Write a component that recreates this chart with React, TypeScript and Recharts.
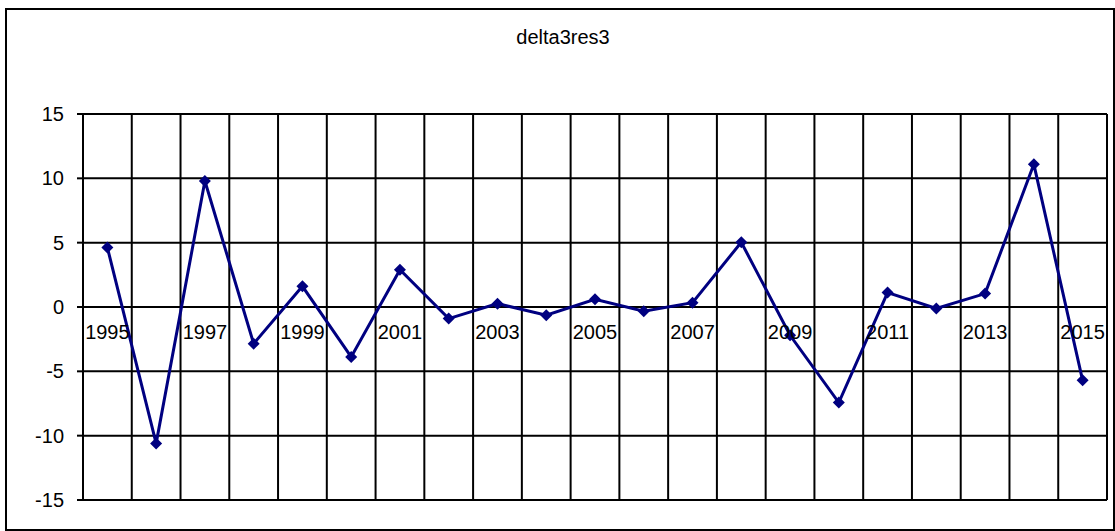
import React from 'react';
import { LineChart, Line, XAxis, YAxis, CartesianGrid, ReferenceDot } from 'recharts';

// category years and the series
const years = [
  1995, 1996, 1997, 1998, 1999, 2000, 2001, 2002, 2003, 2004, 2005,
  2006, 2007, 2008, 2009, 2010, 2011, 2012, 2013, 2014, 2015,
];
const delta3res3 = [
  4.62, -10.6, 9.79, -2.85, 1.61, -3.88, 2.9, -0.9, 0.26, -0.64, 0.6,
  -0.33, 0.34, 5.03, -2.2, -7.43, 1.12, -0.12, 1.04, 11.09, -5.7,
];
const labelYears = [1995, 1997, 1999, 2001, 2003, 2005, 2007, 2009, 2011, 2013, 2015];
const yTicks = [-15, -10, -5, 0, 5, 10, 15];

const title = 'delta3res3';
const FONT = '"Liberation Sans", Arial, sans-serif';

const data = years.map((year, i) => ({ year, value: delta3res3[i] }));

// gridlines sit between the categories, like Excel's "between tick marks"
const gridTicks = [...years.map((y) => y - 0.5), years[years.length - 1] + 0.5];

const Diamond = (props: any) => {
  const { cx, cy } = props;
  if (cx == null || cy == null) return null;
  const s = 6;
  return (
    <polygon
      points={`${cx},${cy - s} ${cx + s},${cy} ${cx},${cy + s} ${cx - s},${cy}`}
      fill="#000080"
    />
  );
};

export default function App() {
  return (
    <div
      style={{
        position: 'absolute',
        left: 0,
        top: 0,
        width: 1115,
        height: 531,
        background: '#fff',
        fontFamily: FONT,
        overflow: 'hidden',
      }}
    >
      {/* chart area frame */}
      <div
        style={{
          position: 'absolute',
          left: 5,
          top: 8,
          width: 1110,
          height: 523,
          boxSizing: 'border-box',
          border: '2px solid #000',
        }}
      />
      <div
        style={{
          position: 'absolute',
          left: 463,
          top: 27,
          width: 200,
          textAlign: 'center',
          fontSize: 20,
          lineHeight: '20px',
          color: '#000',
        }}
      >
        {title}
      </div>
      <div style={{ position: 'absolute', left: 0, top: 0 }}>
        <LineChart
          width={1115}
          height={531}
          data={data}
          margin={{ top: 114, right: 8, bottom: 31, left: 0 }}
        >
          <CartesianGrid stroke="#000" strokeWidth={2} />
          <XAxis
            dataKey="year"
            type="number"
            domain={[gridTicks[0], gridTicks[gridTicks.length - 1]]}
            ticks={gridTicks}
            interval={0}
            hide
          />
          <YAxis
            domain={[-15, 15]}
            ticks={yTicks}
            width={83}
            stroke="#000"
            strokeWidth={2}
            tickSize={6}
            tickMargin={13}
            tick={{ fill: '#000', fontSize: 20, fontFamily: FONT }}
            interval={0}
          />
          {labelYears.map((y) => (
            <ReferenceDot
              key={y}
              x={y}
              y={0}
              r={0}
              fill="none"
              stroke="none"
              label={{
                value: String(y),
                position: 'bottom',
                offset: 18,
                fill: '#000',
                fontSize: 20,
                fontFamily: FONT,
              }}
            />
          ))}
          <Line
            type="linear"
            dataKey="value"
            stroke="#000080"
            strokeWidth={3}
            dot={<Diamond />}
            activeDot={false}
            isAnimationActive={false}
          />
        </LineChart>
      </div>
    </div>
  );
}
